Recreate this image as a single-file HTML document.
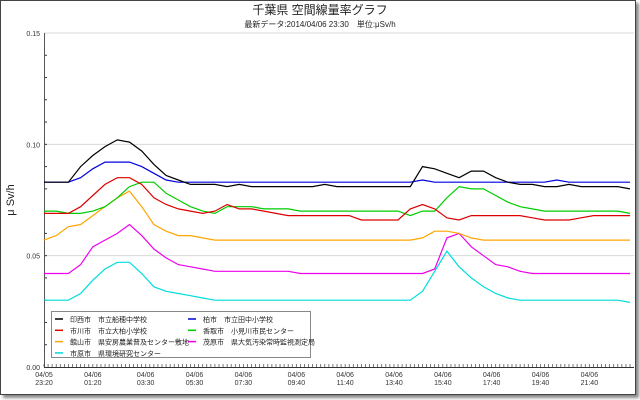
<!DOCTYPE html>
<html><head><meta charset="utf-8">
<style>
html,body{margin:0;padding:0;background:#fff;}
body{width:640px;height:400px;overflow:hidden;position:relative;font-family:"Liberation Sans","Noto Sans CJK JP",sans-serif;}
#frame{position:absolute;left:0;top:0;width:634px;height:393px;border:1px solid #444;box-shadow:3px 3px 3px #888;background:#fff;}
svg{position:absolute;left:0;top:0;}
</style></head>
<body>
<div id="frame"></div>
<svg id="chart" width="640" height="400">
<text x="320" y="14" text-anchor="middle" font-size="12" fill="#222">千葉県 空間線量率グラフ</text>
<text x="320" y="27" text-anchor="middle" font-size="8" fill="#222">最新データ:2014/04/06 23:30　単位:μSv/h</text>
<text transform="translate(14,200) rotate(-90)" text-anchor="middle" font-size="11" fill="#222">μ Sv/h</text>
<g id="grid"></g><g id="axes"></g><g id="series"></g><g id="legend"></g>
</svg>
<script>
const yTicks=[0,0.05,0.10,0.15];
const yTickLabels=["0.00","0.05","0.10","0.15"];
const xLabelIdx=[0,4,8.33,12.33,16.33,20.67,24.67,28.67,32.67,36.67,40.67,44.67];
const xLabelDate=["04/05","04/06","04/06","04/06","04/06","04/06","04/06","04/06","04/06","04/06","04/06","04/06"];
const xLabelTime=["23:20","01:20","03:30","05:30","07:30","09:40","11:40","13:40","15:40","17:40","19:40","21:40"];
const names=["印西市　市立船穂中学校","柏市　市立田中小学校","市川市　市立大柏小学校","香取市　小見川市民センター","館山市　県安房農業普及センター敷地","茂原市　県大気汚染常時監視測定局","市原市　県環境研究センター"];
const colors=["#000000","#0000dd","#dd0000","#00cc00","#ffa500","#ee00ee","#00dddd"];
const sBlack=[0.083,0.083,0.083,0.090,0.095,0.099,0.102,0.101,0.097,0.091,0.086,0.084,0.082,0.082,0.082,0.081,0.082,0.081,0.081,0.081,0.081,0.081,0.081,0.082,0.081,0.081,0.081,0.081,0.081,0.081,0.081,0.090,0.089,0.087,0.085,0.088,0.088,0.085,0.083,0.082,0.082,0.081,0.081,0.082,0.081,0.081,0.081,0.081,0.080];
const sBlue=[0.083,0.083,0.083,0.085,0.089,0.092,0.092,0.092,0.090,0.087,0.084,0.083,0.083,0.083,0.083,0.083,0.083,0.083,0.083,0.083,0.083,0.083,0.083,0.083,0.083,0.083,0.083,0.083,0.083,0.083,0.083,0.084,0.083,0.083,0.083,0.083,0.083,0.083,0.083,0.083,0.083,0.083,0.084,0.083,0.083,0.083,0.083,0.083,0.083];
const sRed=[0.069,0.069,0.069,0.072,0.077,0.082,0.085,0.085,0.082,0.076,0.073,0.071,0.070,0.069,0.070,0.073,0.071,0.071,0.070,0.069,0.068,0.068,0.068,0.068,0.068,0.068,0.066,0.066,0.066,0.066,0.071,0.073,0.071,0.067,0.066,0.068,0.068,0.068,0.068,0.068,0.067,0.066,0.066,0.066,0.067,0.068,0.068,0.068,0.068];
const sGreen=[0.070,0.070,0.069,0.069,0.070,0.072,0.076,0.081,0.083,0.083,0.078,0.075,0.072,0.070,0.069,0.072,0.072,0.072,0.071,0.071,0.071,0.070,0.070,0.070,0.070,0.070,0.070,0.070,0.070,0.070,0.068,0.070,0.070,0.076,0.081,0.080,0.080,0.077,0.074,0.072,0.071,0.070,0.070,0.070,0.070,0.070,0.070,0.070,0.069];
const sOrange=[0.057,0.059,0.063,0.064,0.068,0.072,0.076,0.079,0.072,0.064,0.061,0.059,0.059,0.058,0.057,0.057,0.057,0.057,0.057,0.057,0.057,0.057,0.057,0.057,0.057,0.057,0.057,0.057,0.057,0.057,0.057,0.058,0.061,0.061,0.060,0.058,0.057,0.057,0.057,0.057,0.057,0.057,0.057,0.057,0.057,0.057,0.057,0.057,0.057];
const sMagenta=[0.042,0.042,0.042,0.046,0.054,0.057,0.060,0.064,0.059,0.053,0.049,0.046,0.045,0.044,0.043,0.043,0.043,0.043,0.043,0.043,0.043,0.042,0.042,0.042,0.042,0.042,0.042,0.042,0.042,0.042,0.042,0.042,0.044,0.058,0.060,0.054,0.050,0.046,0.045,0.043,0.042,0.042,0.042,0.042,0.042,0.042,0.042,0.042,0.042];
const sCyan=[0.030,0.030,0.030,0.033,0.039,0.044,0.047,0.047,0.042,0.036,0.034,0.033,0.032,0.031,0.030,0.030,0.030,0.030,0.030,0.030,0.030,0.030,0.030,0.030,0.030,0.030,0.030,0.030,0.030,0.030,0.030,0.034,0.043,0.052,0.045,0.040,0.036,0.033,0.031,0.030,0.030,0.030,0.030,0.030,0.030,0.030,0.030,0.030,0.029];
const series=[sBlack,sBlue,sRed,sGreen,sOrange,sMagenta,sCyan];
const drawOrder=[6,5,4,3,2,1,0];

const NS="http://www.w3.org/2000/svg";
const L=44,R=634,T=33,B=367,N=49;
const xS=i=>L+i*(R-4-L)/(N-1);
const yS=v=>B-(v/0.15)*(B-T);
function mk(tag,attrs,parent){const e=document.createElementNS(NS,tag);for(const k in attrs)e.setAttribute(k,attrs[k]);parent.appendChild(e);return e;}
const grid=document.getElementById('grid'),axes=document.getElementById('axes'),sg=document.getElementById('series'),lg=document.getElementById('legend');
yTicks.forEach((v,k)=>{
  if(v>0){const g=mk('line',{x1:L,x2:R,y1:yS(v),y2:yS(v),stroke:'#d8d8d8','stroke-width':1},grid);
  
  }
  const t=mk('text',{x:L-4,y:yS(v)+3,'text-anchor':'end','font-size':7,fill:'#333'},axes);
  t.textContent=yTickLabels[k];
  
  
});
for(let v=0.01;v<0.15;v+=0.01){mk('line',{x1:L,x2:L+3,y1:yS(v),y2:yS(v),stroke:'#333','stroke-width':1},axes);}
const ya=mk('line',{x1:L+0.5,x2:L+0.5,y1:T,y2:B,stroke:'#555','stroke-width':1},axes);


const xa=mk('line',{x1:L,x2:R,y1:B+0.5,y2:B+0.5,stroke:'#333','stroke-width':1},axes);


for(let i=0;i<=(N-1)*3;i++){const x=L+i*(R-4-L)/((N-1)*3);mk('line',{x1:x,x2:x,y1:B-3,y2:B,stroke:'#444','stroke-width':0.7},axes);}
xLabelIdx.forEach((idx,k)=>{
  const t1=mk('text',{x:xS(idx),y:B+10,'text-anchor':'middle','font-size':7,fill:'#333'},axes);
  t1.textContent=xLabelDate[k];
  
  
  const t2=mk('text',{x:xS(idx),y:B+18,'text-anchor':'middle','font-size':7,fill:'#333'},axes);
  t2.textContent=xLabelTime[k];
  
  
});
drawOrder.forEach(s=>{
  const pts=series[s].map((v,i)=>xS(i).toFixed(1)+','+yS(v).toFixed(1)).join(' ');
  const p=mk('polyline',{points:pts,fill:'none',stroke:colors[s],'stroke-width':1.2},sg);
  
  
});
const box=mk('rect',{x:51.5,y:311.5,width:259,height:46,fill:'#fff',stroke:'#888','stroke-width':1},lg);


const order=[[0,0,0],[1,1,0],[2,0,1],[3,1,1],[4,0,2],[5,1,2],[6,0,3]];
order.forEach(([s,c,r])=>{
  const y=319+r*11.3;const x0=c?188:55;
  mk('line',{x1:x0,x2:x0+8,y1:y,y2:y,stroke:colors[s],'stroke-width':1.5},lg);
  const t=mk('text',{x:x0+15,y:y+3,'font-size':7,fill:'#222'},lg);
  t.textContent=names[s];
  
  
});
</script>
</body></html>
